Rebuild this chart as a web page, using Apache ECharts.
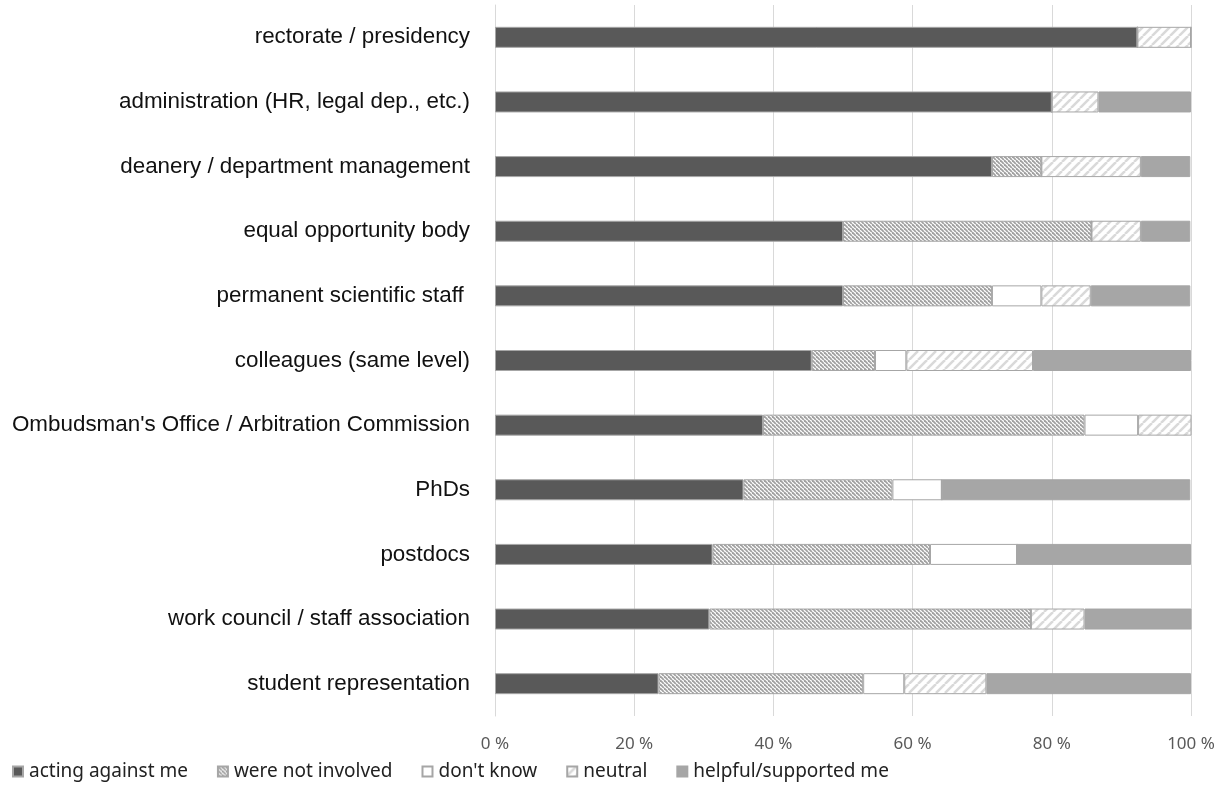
<!DOCTYPE html>
<html>
<head>
<meta charset="utf-8">
<script src="https://cdn.jsdelivr.net/npm/echarts@6/dist/echarts.min.js"></script>
<style>
  html, body { margin: 0; padding: 0; background: #fff; }
  #chart { width: 1228px; height: 796px; }
</style>
</head>
<body>
<div id="chart"></div>
<script>
// categories, top to bottom
var categories = [
    'rectorate / presidency',
    'administration (HR, legal dep., etc.)',
    'deanery / department management',
    'equal opportunity body',
    'permanent scientific staff ',
    'colleagues (same level)',
    "Ombudsman's Office / Arbitration Commission",
    'PhDs',
    'postdocs',
    'work council / staff association',
    'student representation'
];

// percentages per category
var actingAgainst   = [92.3, 80.0, 71.4, 50.0, 50.0, 45.5, 38.5, 35.7, 31.25, 30.8, 23.5];
var notInvolved     = [0,    0,    7.1,  35.7, 21.4, 9.1,  46.2, 21.4, 31.25, 46.2, 29.4];
var dontKnow        = [0,    0,    0,    0,    7.1,  4.5,  7.7,  7.1,  12.5,  0,    5.9];
var neutral         = [7.7,  6.7,  14.3, 7.1,  7.1,  18.2, 7.7,  0,    0,     7.7,  11.8];
var helpful         = [0,    13.3, 7.1,  7.1,  14.3, 22.7, 0,    35.7, 25.0,  15.4, 29.4];

var xTicks = [0, 20, 40, 60, 80, 100];

// 斜线填充
function hatch(size, bg, fg, lw, forward) {
    var c = document.createElement('canvas');
    c.width = size; c.height = size;
    var ctx = c.getContext('2d');
    ctx.fillStyle = bg;
    ctx.fillRect(0, 0, size, size);
    ctx.strokeStyle = fg;
    ctx.lineWidth = lw;
    for (var k = -1; k <= 1; k++) {
        ctx.beginPath();
        if (forward) {
            ctx.moveTo(k * size, size);
            ctx.lineTo(k * size + size, 0);
        } else {
            ctx.moveTo(k * size, 0);
            ctx.lineTo(k * size + size, size);
        }
        ctx.stroke();
    }
    return { image: c, repeat: 'repeat' };
}

var dom = document.getElementById('chart');
var myChart = echarts.init(dom);

var border = '#a6a6a6';
function seg(name, data, color) {
    return {
        name: name,
        type: 'bar',
        stack: 'all',
        barWidth: 21,
        data: data,
        itemStyle: { color: color, borderColor: border, borderWidth: 1 },
        emphasis: { disabled: true }
    };
}

var option = {
    backgroundColor: '#fff',
    animation: false,
    grid: {
        left: 495,
        right: 37,
        top: 5,
        bottom: 80
    },
    legend: {
        left: 7,
        bottom: 10,
        itemWidth: 10,
        itemHeight: 10,
        itemGap: 29,
        icon: 'rect',
        textStyle: { fontFamily: 'Noto Sans', fontSize: 19, color: '#222', padding: [0, 0, 0, 1] },
        data: ['acting against me', 'were not involved', "don't know", 'neutral', 'helpful/supported me']
    },
    xAxis: {
        type: 'value',
        min: 0,
        max: 100,
        interval: 20,
        axisLine: { show: false },
        axisTick: { show: false },
        splitLine: { show: true, lineStyle: { color: '#d9d9d9', width: 1 } },
        axisLabel: {
            fontFamily: 'Noto Sans',
            fontSize: 17,
            color: '#595959',
            margin: 20,
            formatter: function (v) { return xTicks.indexOf(v) >= 0 ? v + ' %' : ''; }
        }
    },
    yAxis: {
        type: 'category',
        inverse: true,
        data: categories,
        axisLine: { show: true, lineStyle: { color: '#d9d9d9' } },
        axisTick: { show: false },
        axisLabel: {
            fontFamily: 'Liberation Sans',
            fontSize: 22.4,
            color: '#111',
            margin: 25
        }
    },
    series: [
        seg('acting against me', actingAgainst, '#595959'),
        seg('were not involved', notInvolved, hatch(4, '#ffffff', '#a0a0a0', 1.8, false)),
        seg("don't know", dontKnow, '#ffffff'),
        seg('neutral', neutral, hatch(9, '#ffffff', '#d9d9d9', 2.5, true)),
        seg('helpful/supported me', helpful, '#a6a6a6')
    ]
};

myChart.setOption(option);
</script>
</body>
</html>
